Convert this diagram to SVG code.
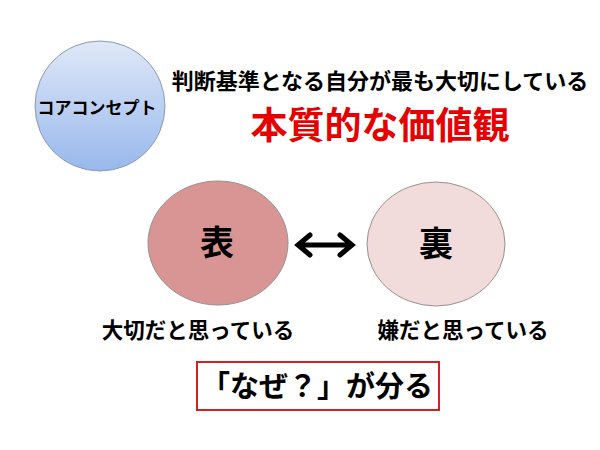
<svg xmlns="http://www.w3.org/2000/svg" width="600" height="450" viewBox="0 0 600 450">
<defs>
<linearGradient id="blue" x1="0" y1="0" x2="0" y2="1">
<stop offset="0" stop-color="#dfe8f8"/>
<stop offset="1" stop-color="#98b8ec"/>
</linearGradient>
<style>
text{font-family:"Noto Sans CJK JP","Noto Sans CJK SC",sans-serif;font-weight:bold;fill:#000;text-anchor:middle}
.node{stroke:#9a8f8f;stroke-width:1}
</style>
</defs>
<rect width="600" height="450" fill="#fff"/>
<g id="core">
<circle cx="100" cy="106" r="65" fill="url(#blue)" stroke="#8a9ab5" stroke-width="1"/>
<text x="97" y="114" font-size="17">コアコンセプト</text>
</g>
<g id="caption">
<text x="380" y="89" font-size="22">判断基準となる自分が最も大切にしている</text>
<text x="380" y="139" font-size="37" style="fill:#e60000">本質的な価値観</text>
</g>
<g id="omote">
<ellipse class="node" cx="218" cy="243" rx="70" ry="62" fill="#d99594"/>
<text x="217" y="255" font-size="34">表</text>
</g>
<g id="ura">
<ellipse class="node" cx="436" cy="244" rx="69" ry="62" fill="#f2dcdb"/>
<text x="436" y="256" font-size="34">裏</text>
</g>
<g id="connectors">
<path d="M300 245H350M310 235L298 245L310 255M340 235L352 245L340 255" fill="none" stroke="#000" stroke-width="5" stroke-linecap="round" stroke-linejoin="miter"/>
</g>
<g id="labels">
<text x="198" y="338" font-size="21.5">大切だと思っている</text>
<text x="463" y="338" font-size="21.5">嫌だと思っている</text>
</g>
<g id="result">
<rect x="197" y="362" width="242" height="48" fill="#fff" stroke="#d42020" stroke-width="2"/>
<text x="317" y="397" font-size="29">「なぜ？」が分る</text>
</g>
</svg>
